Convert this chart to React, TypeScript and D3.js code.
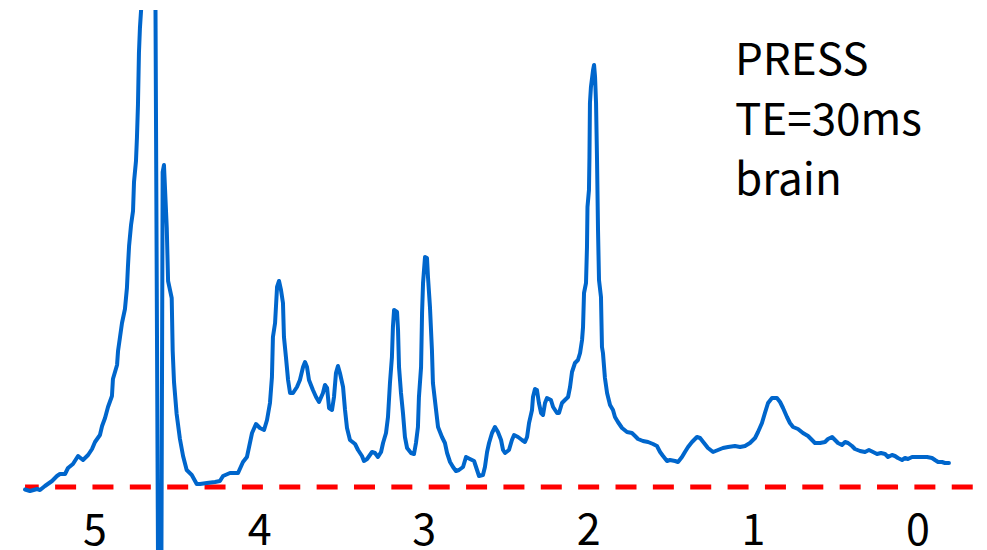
import React from 'react';
import * as d3 from 'd3';

// Chemical shift (ppm) and signal (a.u.)
const ppm = [
  5.425, 5.395, 5.352, 5.334, 5.304, 5.261, 5.231, 5.213, 5.182, 5.164,
  5.134, 5.103, 5.073, 5.042, 5.018, 5.000, 4.970, 4.957, 4.939, 4.921,
  4.897, 4.891, 4.866, 4.860, 4.848, 4.836, 4.818, 4.806, 4.800, 4.793,
  4.781, 4.769, 4.763, 4.751, 4.745, 4.739, 4.733, 4.727, 4.720, 4.714,
  4.666, 4.605, 4.589, 4.581, 4.564, 4.556, 4.534, 4.528, 4.520, 4.504,
  4.484, 4.465, 4.443, 4.412, 4.382, 4.362, 4.320, 4.271, 4.241, 4.222,
  4.180, 4.131, 4.101, 4.077, 4.064, 4.046, 4.022, 3.998, 3.973, 3.955,
  3.937, 3.925, 3.919, 3.906, 3.894, 3.882, 3.870, 3.858, 3.852, 3.840,
  3.827, 3.815, 3.797, 3.773, 3.755, 3.736, 3.724, 3.712, 3.700, 3.676,
  3.657, 3.639, 3.615, 3.603, 3.590, 3.578, 3.560, 3.548, 3.536, 3.524,
  3.512, 3.493, 3.481, 3.469, 3.451, 3.420, 3.402, 3.378, 3.366, 3.347,
  3.317, 3.299, 3.281, 3.262, 3.250, 3.232, 3.220, 3.208, 3.196, 3.190,
  3.183, 3.165, 3.159, 3.153, 3.141, 3.129, 3.117, 3.104, 3.080, 3.062,
  3.050, 3.038, 3.032, 3.019, 3.013, 3.007, 2.995, 2.983, 2.977, 2.965,
  2.953, 2.947, 2.928, 2.916, 2.892, 2.874, 2.861, 2.843, 2.825, 2.807,
  2.789, 2.764, 2.746, 2.722, 2.697, 2.679, 2.667, 2.643, 2.631, 2.618,
  2.606, 2.588, 2.570, 2.552, 2.533, 2.521, 2.509, 2.485, 2.467, 2.454,
  2.430, 2.406, 2.388, 2.375, 2.363, 2.345, 2.339, 2.327, 2.315, 2.303,
  2.290, 2.278, 2.266, 2.254, 2.230, 2.217, 2.193, 2.181, 2.163, 2.145,
  2.126, 2.114, 2.102, 2.084, 2.066, 2.053, 2.041, 2.035, 2.029, 2.017,
  2.011, 2.008, 1.999, 1.996, 1.993, 1.987, 1.974, 1.968, 1.962, 1.956,
  1.950, 1.944, 1.938, 1.926, 1.920, 1.914, 1.902, 1.889, 1.871, 1.853,
  1.841, 1.823, 1.798, 1.768, 1.738, 1.719, 1.701, 1.671, 1.640, 1.610,
  1.586, 1.567, 1.549, 1.525, 1.507, 1.476, 1.458, 1.434, 1.416, 1.397,
  1.373, 1.343, 1.324, 1.300, 1.276, 1.245, 1.215, 1.185, 1.154, 1.112,
  1.081, 1.051, 1.021, 0.990, 0.972, 0.948, 0.930, 0.911, 0.887, 0.857,
  0.838, 0.820, 0.796, 0.778, 0.759, 0.729, 0.699, 0.668, 0.644, 0.626,
  0.595, 0.565, 0.547, 0.522, 0.504, 0.486, 0.462, 0.443, 0.425, 0.401,
  0.383, 0.352, 0.322, 0.298, 0.273, 0.249, 0.225, 0.200, 0.182, 0.158,
  0.140, 0.122, 0.097, 0.079, 0.061, 0.036, 0.006, -0.024, -0.055, -0.085,
  -0.103, -0.122, -0.146, -0.164, -0.188,
];

const signal = [
  -2.5, -4, -2, -3, 1, 6, 11, 13, 13, 19,
  23, 31, 27, 32, 38, 45, 52, 61, 69, 80,
  91, 108, 122, 136, 150, 164, 178, 199, 220, 241,
  262, 276, 305, 326, 350, 382, 434, 459, 477, 517,
  1687, -513, 315, 322, 259, 206, 189, 136, 105, 73,
  48, 31, 17, 12, 3, 3, 4, 5, 6, 11,
  14, 14, 25, 30, 40, 54, 63, 59, 57, 67,
  84, 110, 150, 164, 200, 206, 197, 184, 150, 130,
  107, 94, 94, 100, 107, 120, 125, 120, 107, 97,
  90, 85, 94, 102, 99, 79, 77, 90, 114, 121,
  114, 100, 77, 59, 47, 43, 37, 31, 26, 28,
  35, 34, 30, 35, 44, 54, 70, 104, 130, 160,
  177, 175, 157, 120, 94, 74, 50, 39, 34, 33,
  44, 60, 90, 120, 174, 204, 230, 229, 210, 180,
  137, 104, 77, 60, 50, 44, 34, 25, 20, 16,
  17, 20, 30, 28, 26, 17, 11, 12, 20, 35,
  44, 54, 60, 55, 47, 37, 34, 37, 47, 52,
  50, 47, 45, 50, 64, 77, 90, 98, 97, 84,
  74, 72, 84, 89, 87, 80, 74, 74, 84, 87,
  90, 100, 115, 124, 127, 134, 147, 160, 194, 204,
  240, 280, 297, 330, 384, 400, 417, 422, 410, 384,
  327, 257, 207, 190, 140, 134, 109, 94, 82, 77,
  70, 65, 59, 55, 54, 51, 48, 46, 45, 43,
  41, 35, 31, 26, 27, 26, 25, 30, 35, 40,
  45, 50, 49, 44, 39, 35, 37, 39, 40, 41,
  40, 41, 44, 49, 55, 64, 74, 84, 89, 89,
  85, 79, 70, 64, 60, 58, 54, 51, 47, 44,
  44, 45, 48, 50, 47, 44, 42, 45, 44, 41,
  38, 36, 35, 37, 35, 33, 34, 33, 30, 32,
  31, 29, 27, 29, 28, 30, 30, 30, 30, 29,
  27, 25, 25, 24, 24,
];

const tickValues = [5, 4, 3, 2, 1, 0];
const baselineRange = [5.425, -0.335];
const annotation = ['PRESS', 'TE=30ms', 'brain'];

export default function App() {
  const W = 987;
  const H = 550;
  const x = d3.scaleLinear().domain([5, 0]).range([95, 918]);
  const y = d3.scaleLinear().domain([0, 487]).range([487, 0]);

  const pts: [number, number][] = ppm.map((p, i) => [p, signal[i]]);
  const line = d3
    .line<[number, number]>()
    .x((d) => x(d[0]))
    .y((d) => y(d[1]));

  const font = "'Noto Sans CJK SC', 'Noto Sans', sans-serif";

  return (
    <svg
      width={W}
      height={H}
      viewBox={`0 0 ${W} ${H}`}
      style={{ position: 'absolute', left: 0, top: 0, background: '#fff' }}
    >
      <defs>
        <clipPath id="plotClip">
          <rect x={0} y={10} width={W} height={H} />
        </clipPath>
      </defs>
      <line
        x1={x(baselineRange[0])}
        x2={x(baselineRange[1])}
        y1={y(0)}
        y2={y(0)}
        stroke="#ff0000"
        strokeWidth={5}
        strokeDasharray="21 16.36"
        strokeDashoffset={7.3}
      />
      <path
        d={line(pts) || ''}
        fill="none"
        stroke="#0066cc"
        strokeWidth={4}
        strokeLinejoin="round"
        strokeLinecap="round"
        clipPath="url(#plotClip)"
      />
      {tickValues.map((t) => (
        <text
          key={t}
          x={x(t)}
          y={545}
          textAnchor="middle"
          fontFamily={font}
          fontSize={43}
          fill="#000"
        >
          {t}
        </text>
      ))}
      {annotation.map((s, i) => (
        <text
          key={s}
          x={735}
          y={75 + i * 60}
          fontFamily={font}
          fontSize={44}
          fill="#000"
        >
          {s}
        </text>
      ))}
    </svg>
  );
}
